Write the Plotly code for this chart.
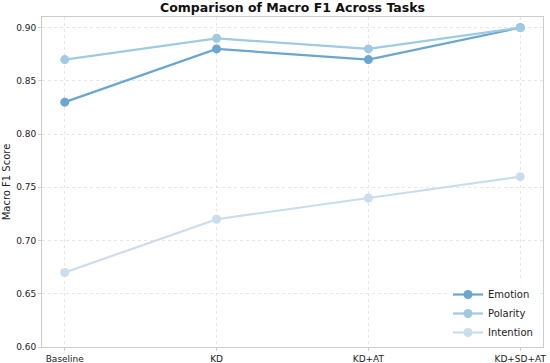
import plotly.graph_objects as go

categories = ["Baseline", "KD", "KD+AT", "KD+SD+AT"]
emotion = [0.83, 0.88, 0.87, 0.90]
polarity = [0.87, 0.89, 0.88, 0.90]
intention = [0.67, 0.72, 0.74, 0.76]
y_ticks = [0.60, 0.65, 0.70, 0.75, 0.80, 0.85, 0.90]

series = [
    ("Emotion", emotion, "#6ba6cf"),
    ("Polarity", polarity, "#9fcae2"),
    ("Intention", intention, "#c9ddec"),
]

fig = go.Figure()
for name, vals, col in series:
    fig.add_trace(go.Scatter(
        x=list(range(len(categories))), y=vals, name=name, mode="lines+markers",
        line=dict(color=col, width=2.2), marker=dict(color=col, size=9),
    ))

font = "DejaVu Sans"
axis_common = dict(
    showline=True, linecolor="#cccccc", linewidth=1, mirror=True,
    showgrid=True, gridcolor="#e6e6e6", griddash="3px,3px", gridwidth=0.8,
    ticks="outside", tickcolor="#cccccc", ticklen=3, automargin=False,
    tickfont=dict(family=font, size=9, color="#222222"), zeroline=False,
)
fig.update_xaxes(
    tickmode="array", tickvals=list(range(len(categories))), ticktext=categories,
    range=[-0.15, 3.15], **axis_common,
)
fig.update_yaxes(
    tickmode="array", tickvals=y_ticks, ticktext=[f"{v:.2f}" for v in y_ticks],
    range=[0.60, 0.91],
    title=dict(text="Macro F1 Score", font=dict(family=font, size=10, color="#222222"), standoff=3),
    **axis_common,
)
fig.update_layout(
    width=550, height=363,
    margin=dict(l=42, r=7, t=17, b=16),
    paper_bgcolor="white", plot_bgcolor="white",
    title=dict(text="<b>Comparison of Macro F1 Across Tasks</b>", x=0.5, xref="paper", xanchor="center",
               y=0.99, yanchor="top", font=dict(family=font, size=12.5, color="#111111")),
    legend=dict(x=0.99, y=0.0, xanchor="right", yanchor="bottom", bgcolor="rgba(255,255,255,0.8)",
                font=dict(family=font, size=10, color="#222222"), tracegroupgap=0, itemwidth=30),
    showlegend=True,
)
fig.write_html(
    "out.html",
    config={"displayModeBar": False},
    post_script="document.body.style.margin='0';document.body.style.overflow='hidden';",
)
